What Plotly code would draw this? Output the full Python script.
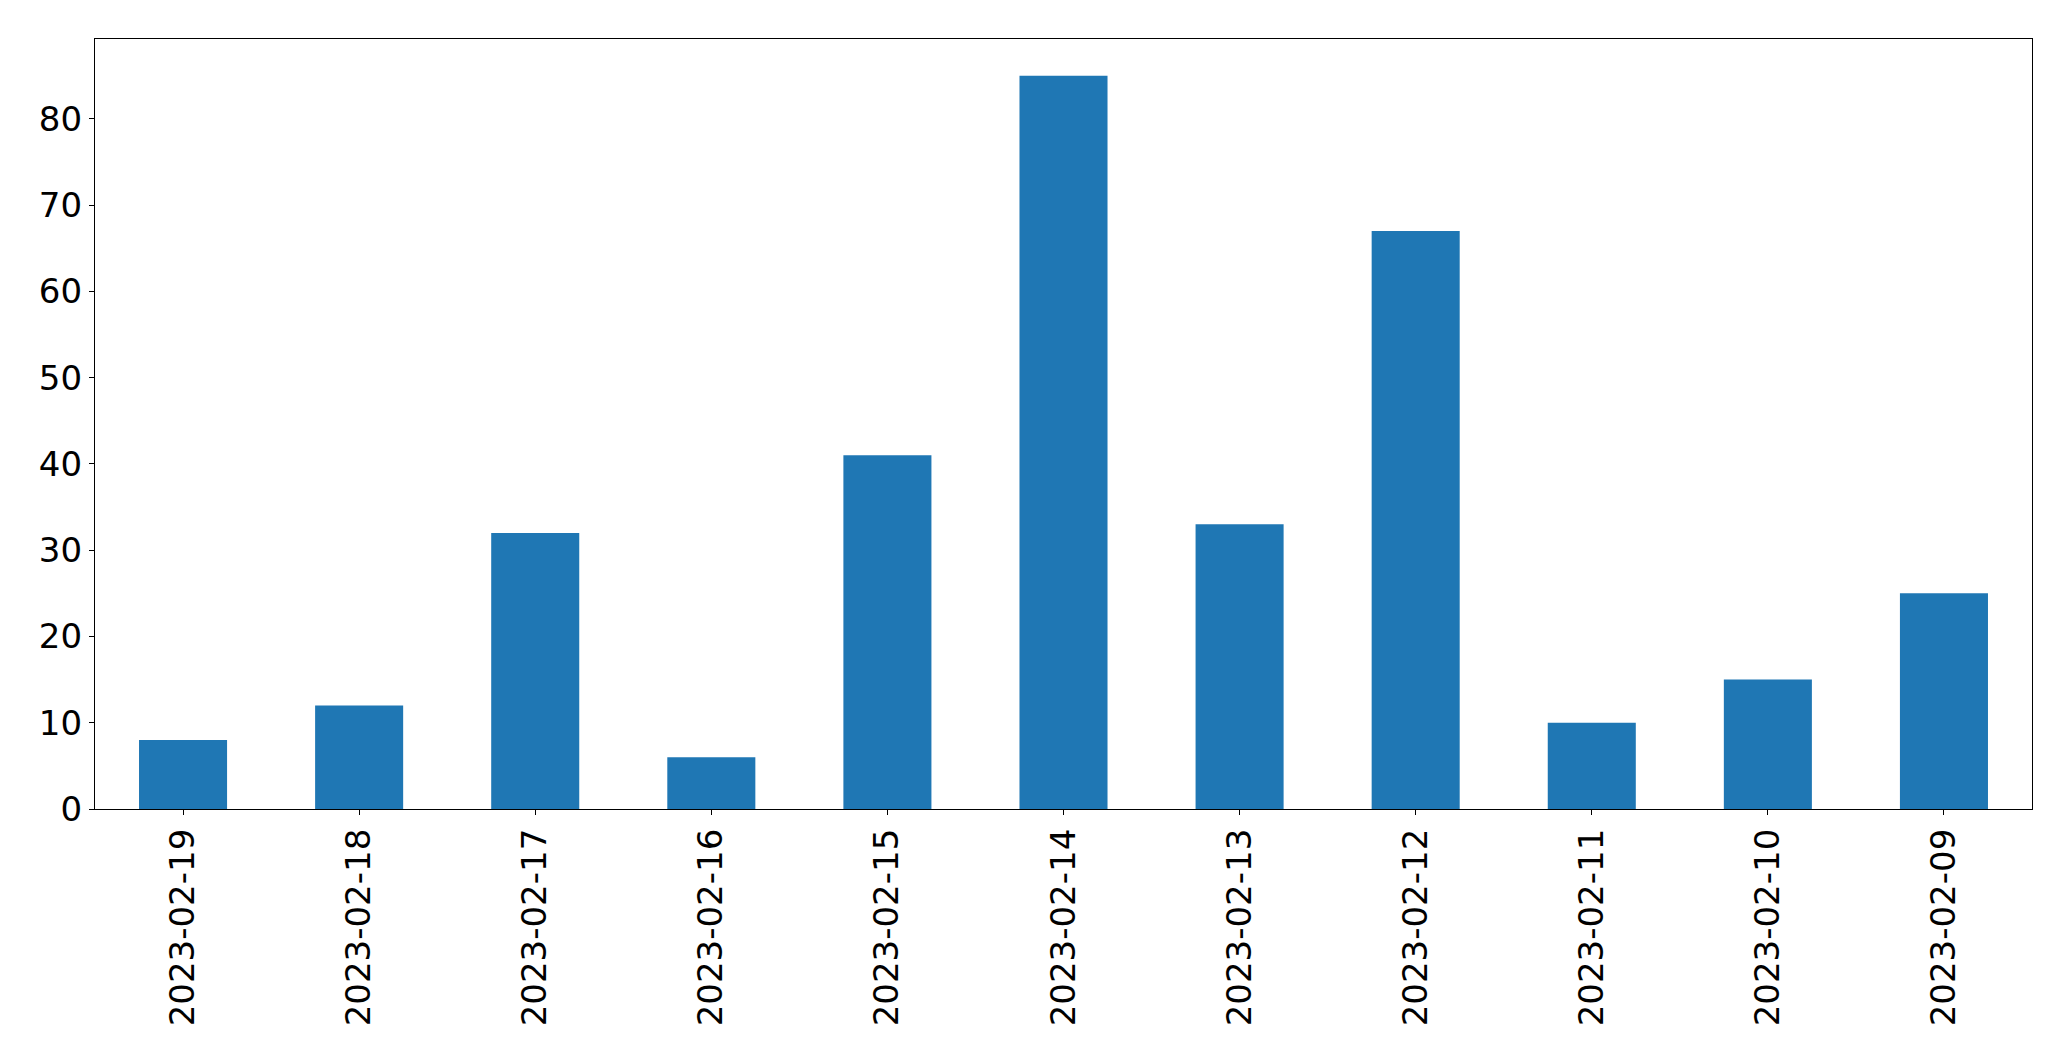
import plotly.graph_objects as go

dates = ["2023-02-19", "2023-02-18", "2023-02-17", "2023-02-16", "2023-02-15",
         "2023-02-14", "2023-02-13", "2023-02-12", "2023-02-11", "2023-02-10", "2023-02-09"]
counts = [8, 12, 32, 6, 41, 85, 33, 67, 10, 15, 25]
y_ticks = [0, 10, 20, 30, 40, 50, 60, 70, 80]

fig = go.Figure(go.Bar(x=dates, y=counts, marker_color="#1f77b4", marker_line_width=0, width=0.5))

font = dict(family="DejaVu Sans", size=34, color="black")
# page body has an 8px default margin; compensate so the plot lands where the reference has it
fig.update_layout(
    width=2055, height=1045,
    margin=dict(l=87, r=31, t=31, b=244, pad=0),
    paper_bgcolor="white", plot_bgcolor="white",
    showlegend=False,
    font=font,
)
fig.update_xaxes(
    type="category", range=[-0.5, len(dates) - 0.5],
    showline=True, linecolor="black", linewidth=1.3, mirror=True,
    ticks="outside", ticklen=5, tickwidth=1.3, tickcolor="black",
    tickangle=-90, showgrid=False, tickfont=font,
)
fig.update_yaxes(
    range=[0, max(counts) * 1.05], tickvals=y_ticks,
    showline=True, linecolor="black", linewidth=1.3, mirror=True,
    ticks="outside", ticklen=5, tickwidth=1.3, tickcolor="black",
    showgrid=False, zeroline=False, tickfont=font,
)
fig.write_html("out.html")
